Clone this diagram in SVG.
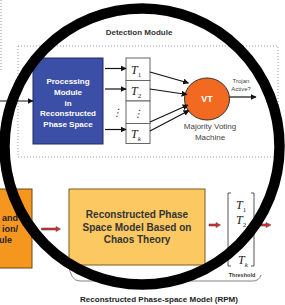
<svg xmlns="http://www.w3.org/2000/svg" width="285" height="305" viewBox="0 0 285 305">
<defs>
<marker id="ah" viewBox="0 0 10 10" refX="9" refY="5" markerWidth="6" markerHeight="6" markerUnits="userSpaceOnUse" orient="auto"><path d="M0,0 L10,5 L0,10 z" fill="#111"/></marker>
<style>
.lbl{font-family:"Liberation Sans",Arial,sans-serif;font-weight:bold;}
.reg{font-family:"Liberation Sans",Arial,sans-serif;}
.tt{font-family:"Liberation Serif","Times New Roman",serif;font-style:italic;fill:#222;}
.dot{fill:none;stroke:#999;stroke-width:1;stroke-dasharray:1,2;}
.ar{stroke:#111;stroke-width:1.2;fill:none;marker-end:url(#ah);}
.red{fill:#e0242a;stroke:#555;stroke-width:0.6;}
.cell{fill:#fff;stroke:#666;stroke-width:1;}
</style>
</defs>
<rect width="285" height="305" fill="#fff"/>
<g id="outer-box"><path class="dot" d="M1,0 V70"/></g>
<g id="detection-module">
<rect class="dot" x="18" y="46" width="260" height="111"/>
<text class="lbl" x="139" y="35" font-size="8" text-anchor="middle" fill="#333">Detection Module</text>
</g>
<g id="processing-module">
<rect x="33" y="58" width="70" height="86" fill="#3b4fa6" stroke="#222a60" stroke-width="1"/>
<g class="lbl" font-size="8" fill="#fff" text-anchor="middle">
<text x="68" y="84">Processing</text>
<text x="68" y="95">Module</text>
<text x="68" y="105.5">in</text>
<text x="68" y="116">Reconstructed</text>
<text x="68" y="126.5">Phase Space</text>
</g>
</g>
<g id="threshold-table">
<rect class="cell" x="126" y="58" width="24" height="22.5"/>
<rect class="cell" x="126" y="80.5" width="24" height="20.5"/>
<rect class="cell" x="126" y="101" width="24" height="22.5"/>
<rect class="cell" x="126" y="123.5" width="24" height="20"/>
<text class="tt" x="131" y="74" font-size="12">T<tspan font-size="7" dy="3" font-style="normal">1</tspan></text>
<text class="tt" x="131" y="95" font-size="12">T<tspan font-size="7" dy="3" font-style="normal">2</tspan></text>
<text class="tt" x="138" y="117" font-size="10" text-anchor="middle" font-style="normal">⋮</text>
<text class="tt" x="131" y="137.5" font-size="12">T<tspan font-size="7" dy="3">k</tspan></text>
</g>
<g id="vt">
<ellipse cx="207" cy="99" rx="22.5" ry="21" fill="#f26a21" stroke="#333" stroke-width="1"/>
<text class="lbl" x="207" y="102" font-size="9" fill="#fff" text-anchor="middle">VT</text>
<g class="reg" font-size="8" fill="#444" text-anchor="middle">
<text x="210" y="129">Majority Voting</text>
<text x="210" y="139.5">Machine</text>
</g>
<g class="reg" font-size="6" fill="#444" text-anchor="middle">
<text x="241" y="83">Trojan</text>
<text x="241" y="90.5">Active?</text>
</g>
</g>
<g id="preprocessing-module">
<rect x="-40" y="189" width="72" height="79" fill="#f5961f" stroke="#6b4a1a" stroke-width="1"/>
<g class="lbl" font-size="9" fill="#222" text-anchor="end">
<text x="18" y="221">and</text>
<text x="18" y="232">ion/</text>
<text x="12" y="243">ule</text>
</g>
</g>
<g id="rpm-box">
<rect x="69" y="189" width="136" height="76" fill="#fcc862" stroke="#7a5a22" stroke-width="1"/>
<g class="lbl" font-size="10" fill="#333" text-anchor="middle">
<text x="137" y="218">Reconstructed Phase</text>
<text x="137" y="230.5">Space Model Based on</text>
<text x="137" y="243">Chaos Theory</text>
</g>
</g>
<g id="threshold-vector">
<path d="M231,193 H228 V266 H231" fill="none" stroke="#555" stroke-width="1"/>
<path d="M251,193 H254 V266 H251" fill="none" stroke="#555" stroke-width="1"/>
<text class="tt" x="236" y="209" font-size="12">T<tspan font-size="7" dy="3" font-style="normal">1</tspan></text>
<text class="tt" x="236" y="224" font-size="12">T<tspan font-size="7" dy="3" font-style="normal">2</tspan></text>
<text class="tt" x="238" y="264" font-size="12">T<tspan font-size="7" dy="3">k</tspan></text>
<text class="lbl" x="242" y="277" font-size="5.5" fill="#333" text-anchor="middle">Threshold</text>
</g>
<g id="connectors">
<path class="ar" d="M0,101 H33"/>
<path class="ar" d="M105,68.5 H126"/>
<path class="ar" d="M105,89 H126"/>
<path class="ar" d="M105,129.5 H126"/>
<text class="tt" x="117" y="116" font-size="10" text-anchor="middle" font-style="normal">⋮</text>
<path class="ar" d="M150,72 L188.5,83"/>
<path class="ar" d="M150,89 L187,94.5"/>
<path class="ar" d="M150,122 L188,105"/>
<path class="ar" d="M150,131 L189,110.5"/>
<path class="ar" d="M229.5,97 H256"/>
<polygon class="red" points="41.5,228 56,228 56,226.5 60.5,229 56,231.5 56,230 41.5,230"/>
<polygon class="red" points="209,224 216,224 216,222.5 220.5,225 216,227.5 216,226 209,226"/>
<polygon class="red" points="258,224 266,224 266,222.5 271,225 266,227.5 266,226 258,226"/>
<path d="M69,264 Q70,281 80,281 H253 Q259,281 261,275" fill="none" stroke="#666" stroke-width="0.8"/>
</g>
<text class="lbl" x="159" y="302" font-size="8" fill="#222" text-anchor="middle">Reconstructed Phase-space Model (RPM)</text>
<ellipse id="ring" cx="142" cy="146.5" rx="137.5" ry="138" fill="none" stroke="#000" stroke-width="10.5"/>
</svg>
